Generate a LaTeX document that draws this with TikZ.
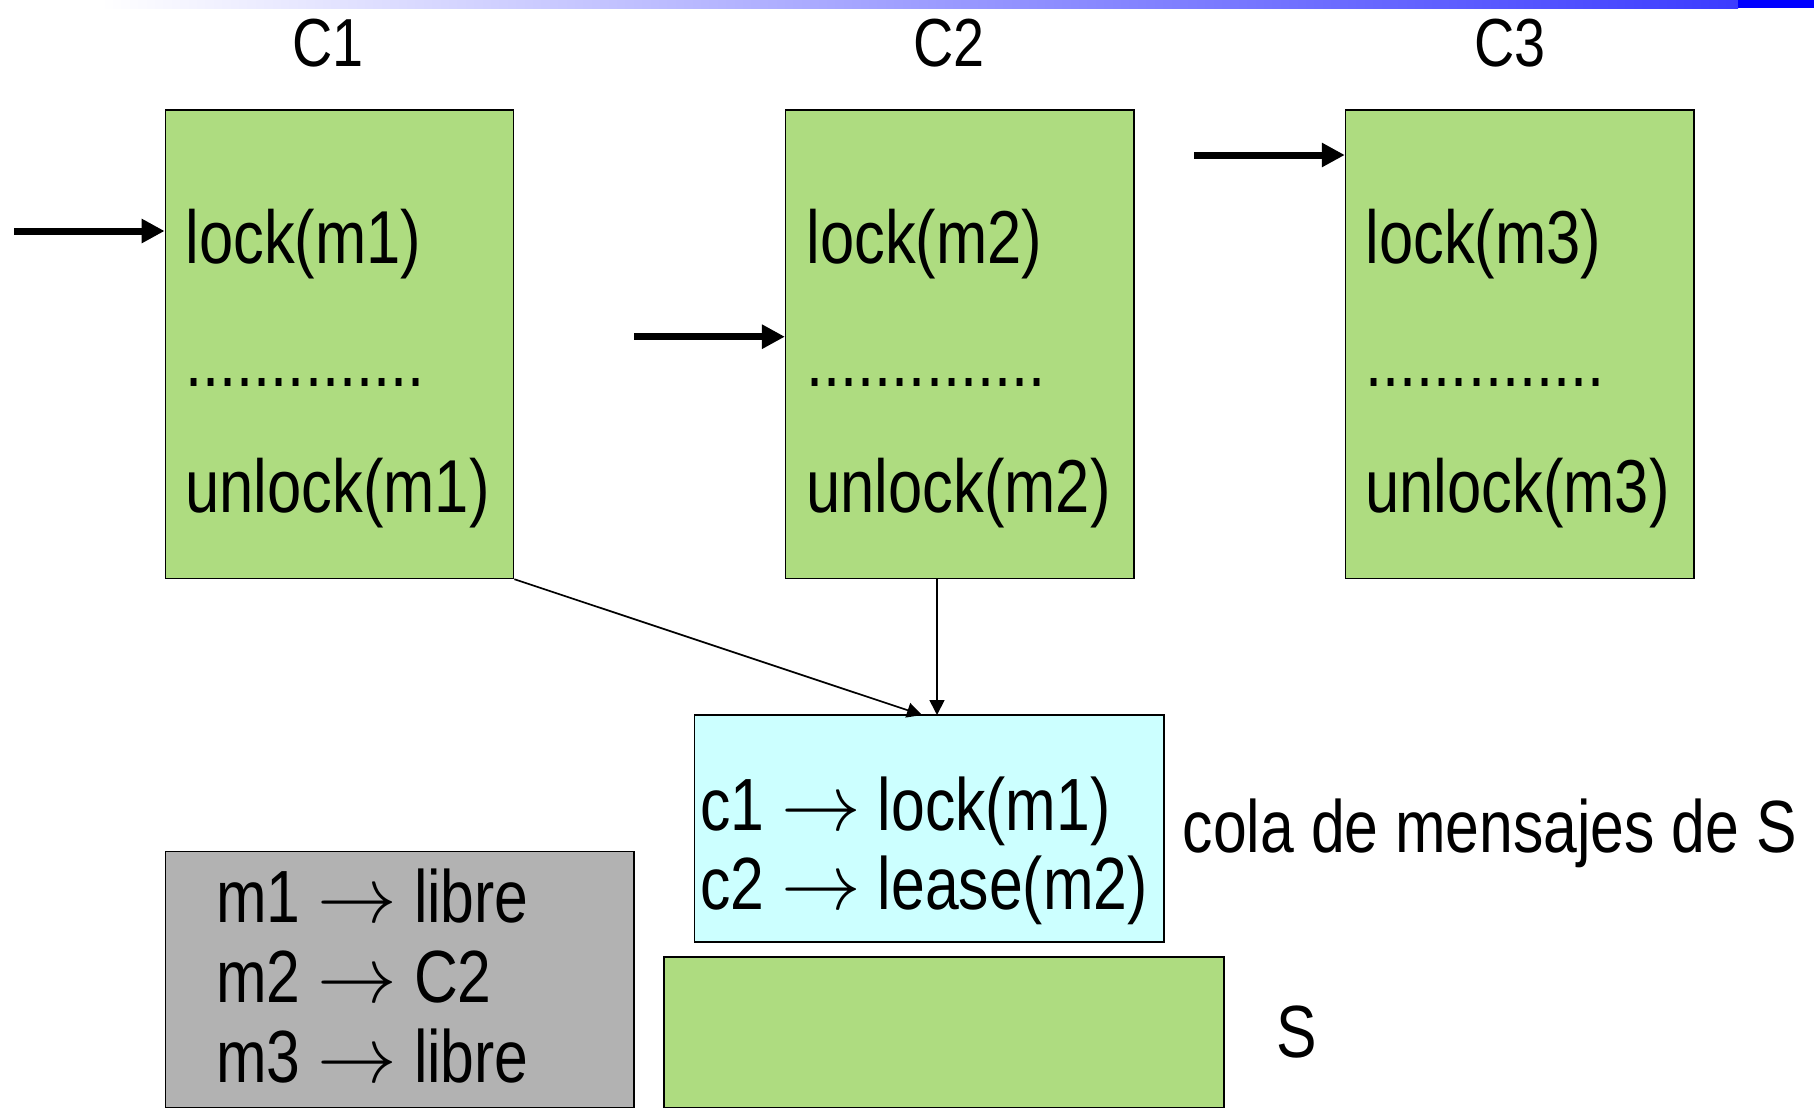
\documentclass[tikz,border=0pt]{standalone}
\usepackage{fontspec}
\usepackage{graphicx}
\setmainfont[FakeStretch=0.82]{Liberation Sans}
\usetikzlibrary{arrows.meta}
\usetikzlibrary{calc}
\definecolor{boxgreen}{RGB}{174,220,128}
\definecolor{boxcyan}{RGB}{204,255,255}
\definecolor{boxgray}{RGB}{178,178,178}
\definecolor{barblue}{RGB}{60,60,255}
\newcommand\goesto{\scalebox{1.6}{$\rightarrow$}}

\begin{document}
\begin{tikzpicture}[x=0.5pt,y=-0.5pt,
    title/.style={font=\fontsize{34}{40}\selectfont, anchor=base, inner sep=0},
    codetxt/.style={font=\fontsize{37.5}{44}\selectfont, anchor=base west, inner sep=0},
    msgtxt/.style={font=\fontsize{37}{44}\selectfont, anchor=base west, inner sep=0},
    clientbox/.style={draw, line width=0.7pt, fill=boxgreen, inner sep=0,
      minimum width=174.2pt, minimum height=234.3pt},
    enter/.style={line width=3.5pt, -{Triangle[length=11.5pt,width=11.5pt]}},
    send/.style={line width=0.85pt, -{Triangle[length=7.5pt,width=7.5pt]}}]
              \useasboundingbox (0,0) rectangle (1814,1109);
              % top bar
              \shade[left color=white,right color=barblue] (100,0) rectangle (1738,8);
              \fill[blue] (1738,0) rectangle (1814,8);

              % clients
              \node[clientbox] (C1) at (339.5,344.2) {};
              \node[clientbox] (C2) at (959.8,344.2) {};
              \node[clientbox] (C3) at (1519.7,344.2) {};
              \node[title] (t1) at (328,66) {C1};
              \node[title] (t2) at (949,66) {C2};
              \node[title] (t3) at (1510,66) {C3};

              \foreach \i/\x in {1/185,2/806,3/1365}{
                \node[codetxt] (lk\i) at (\x,263.8) {lock(m\i)};
                \node[codetxt] (dt\i) at (\x,386.7) {..............};
                \node[codetxt] (ul\i) at (\x,512.6) {unlock(m\i)};
              }

              % where each client is
              \coordinate (s1) at (14,231);
              \coordinate (s2) at (634,336.7);
              \coordinate (s3) at (1194,155);
              \draw[enter] (s1) -- (s1 -| C1.west);
              \draw[enter] (s2) -- (s2 -| C2.west);
              \draw[enter] (s3) -- (s3 -| C3.west);

              % server
              \node[draw, line width=0.7pt, fill=boxcyan, inner sep=0,
                minimum width=234.9pt, minimum height=113.4pt] (queue) at (929.1,828.4) {};
              \node[msgtxt] (q1) at (700,830.7) {c1 \goesto{} lock(m1)};
              \node[msgtxt] (q2) at (700,909.4) {c2 \goesto{} lease(m2)};
              \node[msgtxt] (qlab) at (1182.5,852.7) {cola de mensajes de S};

              \node[draw, line width=0.7pt, fill=boxgreen, inner sep=0,
                minimum width=280pt, minimum height=75.3pt] (S) at (944,1032.2) {};
              \node[msgtxt] (slab) at (1276,1057) {S};

              \node[draw, line width=0.7pt, fill=boxgray, inner sep=0,
                minimum width=234.3pt, minimum height=128pt] (state) at (399.7,979.5) {};
              \node[msgtxt] (m1) at (216,922) {m1 \goesto{} libre};
              \node[msgtxt] (m2) at (216,1002) {m2 \goesto{} C2};
              \node[msgtxt] (m3) at (216,1082) {m3 \goesto{} libre};

              \coordinate (in1) at (922,715);
              \coordinate (in2) at (937,715);
              \draw[send] (C1.south east) -- (in1);
              \draw[send] (C2.south -| in2) -- (in2);
            \end{tikzpicture}
\end{document}
